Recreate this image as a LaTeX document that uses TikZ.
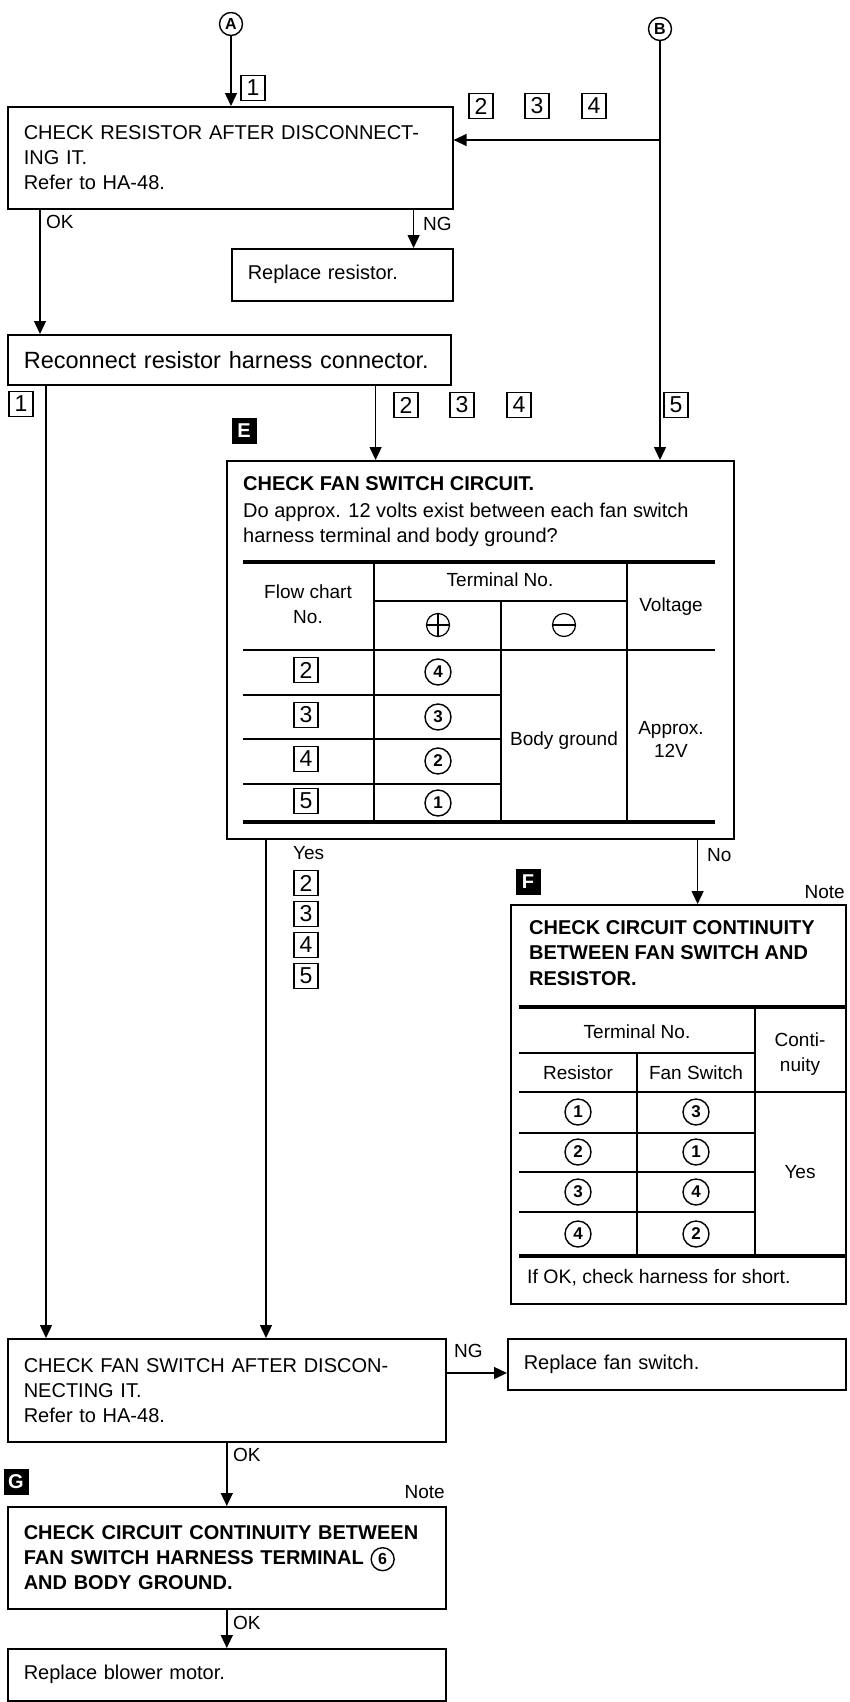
\documentclass[tikz,border=0pt]{standalone}
\usepackage{fontspec}
\setmainfont{Liberation Sans}
\usetikzlibrary{arrows.meta,calc}
\tikzset{
  box/.style={draw,line width=1.6pt,rectangle,anchor=north west,inner xsep=16pt,inner ysep=0pt,align=left,font=\fontsize{20}{25}\selectfont},
  frame/.style={draw,line width=1.6pt,rectangle,anchor=north west,inner sep=0pt},
  conn/.style={line width=1.4pt},
  arr/.style={conn,-{Triangle[length=13pt,width=12pt]}},
  tag/.style={draw,line width=1.1pt,minimum width=24pt,minimum height=25pt,inner sep=0pt,font=\fontsize{23}{23}\selectfont},
  blk/.style={fill=black,text=white,minimum width=25pt,minimum height=26pt,inner sep=0pt,font=\fontsize{20}{20}\selectfont\bfseries},
  lbl/.style={inner sep=0pt,text height=13.7pt,text depth=0pt,font=\fontsize{19}{19}\selectfont},
  ttxt/.style={inner sep=0pt,text height=13.7pt,text depth=0pt,font=\fontsize{19}{19}\selectfont},
  line/.style={inner sep=0pt,font=\fontsize{20}{25}\selectfont},
  cn/.style={circle,draw,line width=1.4pt,minimum size=26pt,inner sep=0pt,font=\fontsize{17}{17}\selectfont\bfseries},
  cl/.style={circle,draw,line width=1.4pt,minimum size=23pt,inner sep=0pt,font=\fontsize{16}{16}\selectfont\bfseries},
  trule/.style={line width=1.4pt},
  tbold/.style={line width=4pt},
}
\newcommand{\incirc}[1]{\tikz[baseline=(ic.base)]\node[circle,draw,line width=1.4pt,minimum size=23pt,inner sep=0pt,font=\fontsize{16}{16}\selectfont\bfseries](ic){#1};}
\begin{document}
\begin{tikzpicture}[x=1pt,y=-1pt]
\useasboundingbox (0,0) rectangle (849,1702);

% connectors A and B
\node[cl] (A) at (231,24) {A};
\node[cl] (B) at (660,29) {B};

% boxes
\node[box,text width=413pt,minimum height=102pt] (b1) at (7,106)
  {CHECK RESISTOR AFTER DISCONNECT-\\ING IT.\\Refer to HA-48.};
\node[box,text width=189pt,minimum height=52pt] (rr) at (231,248) {Replace resistor.};
\node[box,text width=411pt,minimum height=50pt,font=\fontsize{23.5}{25}\selectfont] (rc) at (7,334)
  {Reconnect resistor harness connector.};
\node[frame,minimum width=507pt,minimum height=378pt] (E) at (226,460) {};
\node[frame,minimum width=335pt,minimum height=399pt] (F) at (510,904) {};
\node[box,text width=406pt,minimum height=103pt] (fs) at (7,1338)
  {CHECK FAN SWITCH AFTER DISCON-\\NECTING IT.\\Refer to HA-48.};
\node[box,text width=306pt,minimum height=51pt] (rfs) at (507,1338) {Replace fan switch.};
\node[box,text width=406pt,minimum height=102pt,font=\fontsize{20}{25}\selectfont\bfseries] (G) at (7,1506)
  {CHECK CIRCUIT CONTINUITY BETWEEN\\FAN SWITCH HARNESS TERMINAL \incirc{6}\\AND BODY GROUND.};
\node[box,text width=406pt,minimum height=52pt] (bm) at (7,1648) {Replace blower motor.};

% box E contents
\node[line,anchor=base west,font=\fontsize{20}{25}\selectfont\bfseries] (e1) at (243,490) {CHECK FAN SWITCH CIRCUIT.};
\node[line,anchor=base west] (e2) at (243,517) {Do approx. 12 volts exist between each fan switch};
\node[line,anchor=base west] (e3) at (243,542) {harness terminal and body ground?};
\draw[tbold] (243,562) -- (715,562);
\draw[tbold] (243,822) -- (715,822);
\draw[trule] (374,601) -- (627,601);
\draw[trule] (243,650) -- (715,650);
\draw[trule] (243,695) -- (501,695);
\draw[trule] (243,739) -- (501,739);
\draw[trule] (243,784) -- (501,784);
\draw[trule] (374,562) -- (374,822);
\draw[trule] (501,601) -- (501,822);
\draw[trule] (627,562) -- (627,822);
\node[ttxt] (h1) at (308,592) {Flow chart};
\node[ttxt] (h2) at (308,617) {No.};
\node[ttxt] (h3) at (500,580) {Terminal No.};
\node[ttxt] (h4) at (671,605) {Voltage};
\node[circle,draw,line width=1.2pt,minimum size=23pt,inner sep=0pt] (pl) at (438,625) {};
\draw[line width=1.2pt] (pl.west) -- (pl.east) (pl.north) -- (pl.south);
\node[circle,draw,line width=1.2pt,minimum size=23pt,inner sep=0pt] (mi) at (564,625) {};
\draw[line width=1.2pt] (mi.west) -- (mi.east);
\node[tag] (r2) at (306,670) {2};
\node[tag] (r3) at (306,715) {3};
\node[tag] (r4) at (306,759) {4};
\node[tag] (r5) at (306,801) {5};
\node[cn] (c4) at (438,672) {4};
\node[cn] (c3) at (438,717) {3};
\node[cn] (c2) at (438,761) {2};
\node[cn] (c1) at (438,803) {1};
\node[ttxt] (bg) at (564,739) {Body ground};
\node[ttxt] (ap1) at (671,728) {Approx.};
\node[ttxt] (ap2) at (671,751) {12V};

% box F contents
\node[line,anchor=base west,font=\fontsize{20}{25}\selectfont\bfseries] (f1) at (529,934) {CHECK CIRCUIT CONTINUITY};
\node[line,anchor=base west,font=\fontsize{20}{25}\selectfont\bfseries] (f2) at (529,959) {BETWEEN FAN SWITCH AND};
\node[line,anchor=base west,font=\fontsize{20}{25}\selectfont\bfseries] (f3) at (529,985) {RESISTOR.};
\draw[tbold] (519,1007) -- (845,1007);
\draw[tbold] (519,1256) -- (845,1256);
\draw[trule] (519,1053) -- (755,1053);
\draw[trule] (519,1092) -- (845,1092);
\draw[trule] (519,1133) -- (755,1133);
\draw[trule] (519,1172) -- (755,1172);
\draw[trule] (519,1212) -- (755,1212);
\draw[trule] (637,1053) -- (637,1256);
\draw[trule] (755,1007) -- (755,1256);
\node[ttxt] (g1) at (637,1032) {Terminal No.};
\node[ttxt] (g2) at (578,1073) {Resistor};
\node[ttxt] (g3) at (696,1073) {Fan Switch};
\node[ttxt] (g4) at (800,1040) {Conti-};
\node[ttxt] (g5) at (800,1065) {nuity};
\node[cn] (d1) at (578,1112) {1};
\node[cn] (d2) at (578,1152) {2};
\node[cn] (d3) at (578,1192) {3};
\node[cn] (d4) at (578,1234) {4};
\node[cn] (s3) at (696,1112) {3};
\node[cn] (s1) at (696,1152) {1};
\node[cn] (s4) at (696,1192) {4};
\node[cn] (s2) at (696,1234) {2};
\node[ttxt] (gy) at (800,1172) {Yes};
\node[line,anchor=base west,font=\fontsize{19.5}{25}\selectfont] (fok) at (527,1283) {If OK, check harness for short.};

% black section marks
\node[blk] (mE) at (244,431) {E};
\node[blk] (mF) at (528,882) {F};
\node[blk] (mG) at (16,1482) {G};
\node[lbl,anchor=east] (noteF) at (845,892) {Note};
\node[lbl,anchor=east] (noteG) at (445,1492) {Note};

% connectors
\draw[arr] (A) -- (A |- b1.north);
\draw[arr] (B) -- (B |- E.north);
\coordinate (bj) at (660,140);
\draw[arr] (bj) -- (bj -| b1.east);
\coordinate (oks) at ($(b1.south west)+(33,0)$);
\draw[arr] (oks) -- (oks |- rc.north);
\coordinate (ngs) at ($(b1.south east)+(-40,0)$);
\draw[arr] (ngs) -- (ngs |- rr.north);
\coordinate (l1) at ($(rc.south west)+(39,0)$);
\draw[arr] (l1) -- (l1 |- fs.north);
\coordinate (l2) at ($(rc.south east)+(-76,0)$);
\draw[arr] (l2) -- (l2 |- E.north);
\coordinate (ys) at ($(E.south west)+(40,0)$);
\draw[arr] (ys) -- (ys |- fs.north);
\coordinate (ns) at ($(E.south east)+(-37,0)$);
\draw[arr] (ns) -- (ns |- F.north);
\coordinate (ng2) at ($(fs.north east)+(0,35)$);
\draw[arr] (ng2) -- (ng2 -| rfs.west);
\draw[arr] (fs.south) -- (fs.south |- G.north);
\draw[arr] (G.south) -- (bm.north);

% flow labels
\node[tag] (t1) at (253,88) {1};
\node[tag] (t2) at (481,106) {2};
\node[tag] (t3) at (537,106) {3};
\node[tag] (t4) at (594,106) {4};
\node[lbl,anchor=west] (ok1) at (46,222) {OK};
\node[lbl,anchor=west] (ng1) at (423,224) {NG};
\node[tag] (u1) at (21,404) {1};
\node[tag] (u2) at (406,405) {2};
\node[tag] (u3) at (462,405) {3};
\node[tag] (u4) at (519,405) {4};
\node[tag] (u5) at (676,405) {5};
\node[lbl,anchor=west] (yes) at (293,853) {Yes};
\node[tag] (y2) at (306,883) {2};
\node[tag] (y3) at (306,914) {3};
\node[tag] (y4) at (306,945) {4};
\node[tag] (y5) at (306,976) {5};
\node[lbl,anchor=west] (no) at (707,855) {No};
\node[lbl,anchor=west] (ng3) at (454,1351) {NG};
\node[lbl,anchor=west] (ok2) at (233,1455) {OK};
\node[lbl,anchor=west] (ok3) at (233,1623) {OK};
\end{tikzpicture}
\end{document}
